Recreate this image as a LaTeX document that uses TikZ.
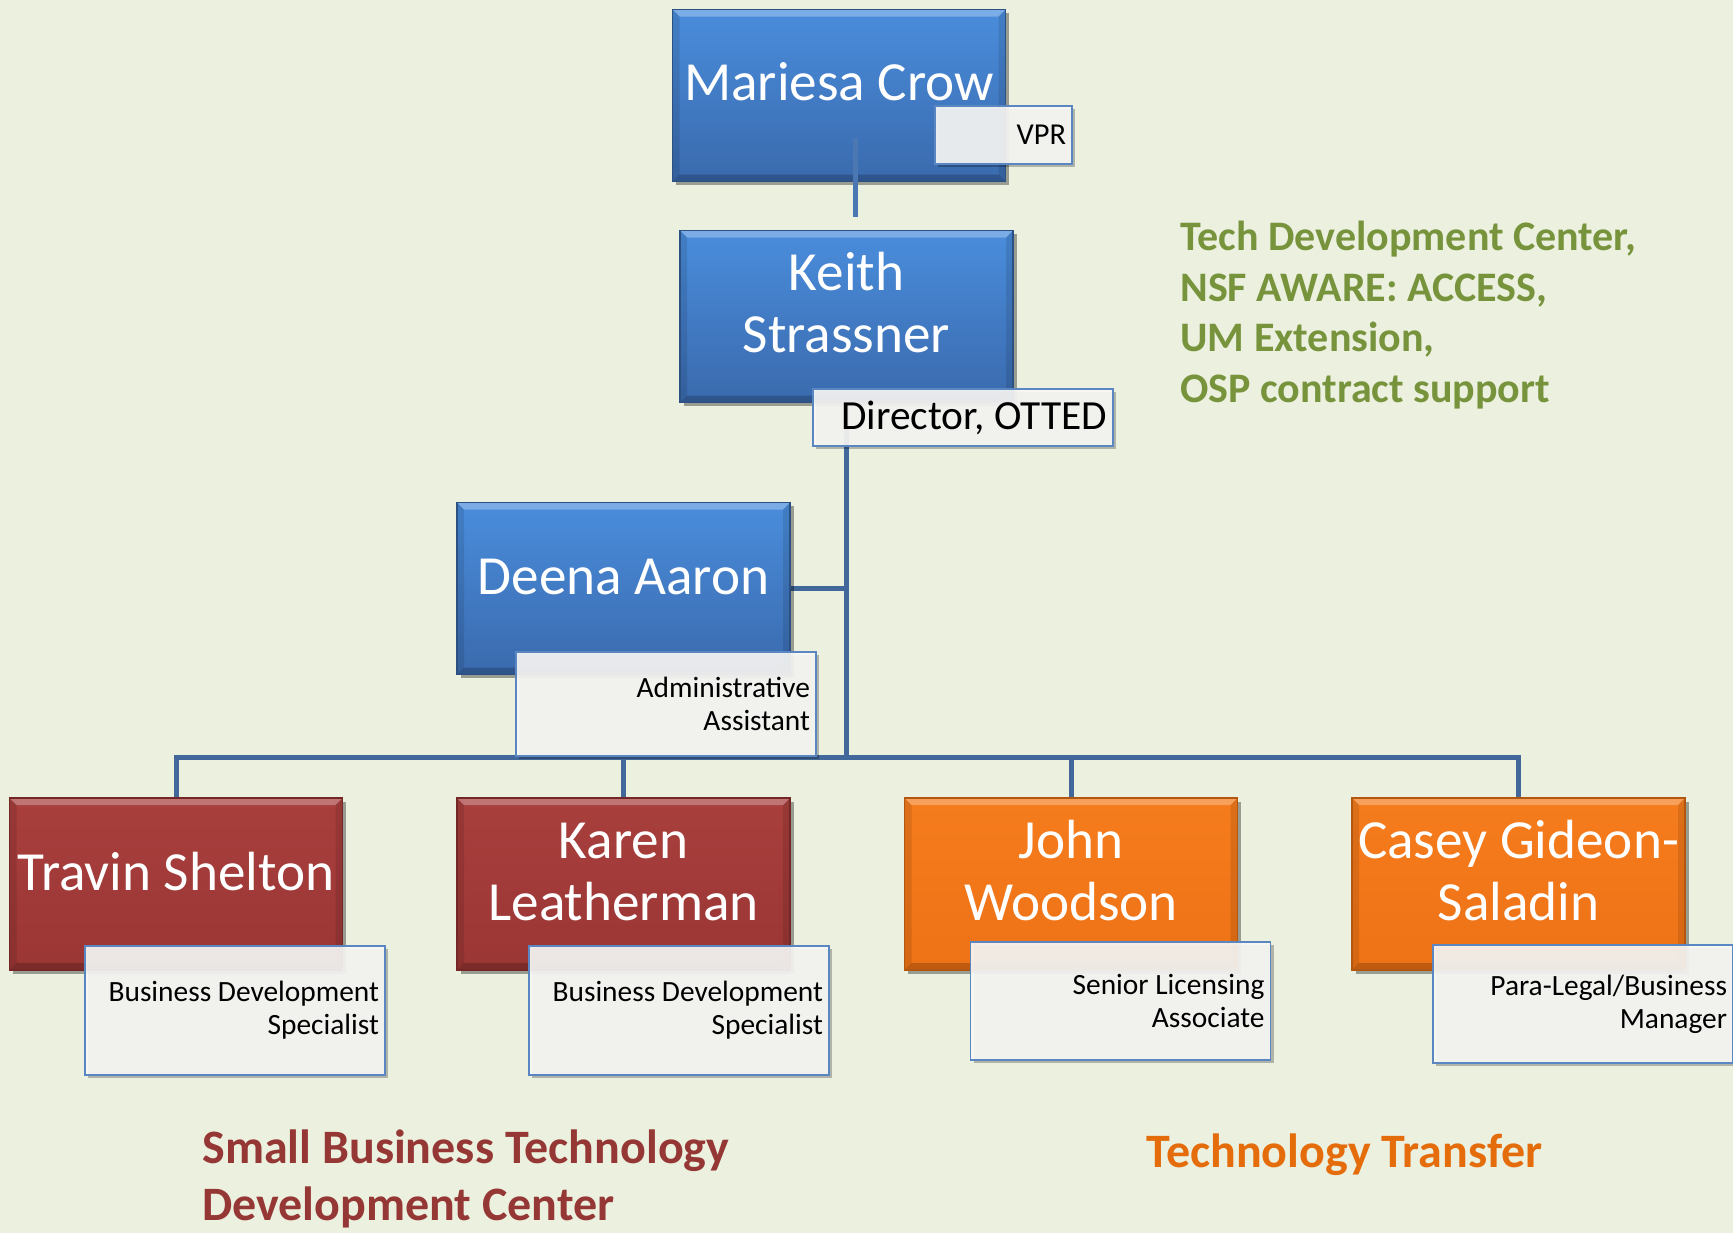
\documentclass[tikz,border=0pt]{standalone}
\usepackage{fontspec}
\setmainfont{Carlito}
\usetikzlibrary{shadows,backgrounds}
\definecolor{bgc}{HTML}{EBF0DF}
\definecolor{bluetop}{HTML}{4A8DDC}
\definecolor{bluebot}{HTML}{3A6AAD}
\definecolor{redtop}{HTML}{A83F3D}
\definecolor{redbot}{HTML}{9A3634}
\definecolor{orgtop}{HTML}{F57C1D}
\definecolor{orgbot}{HTML}{EE7216}
\definecolor{connc}{HTML}{41679B}
\definecolor{connlight}{HTML}{4B77B2}
\definecolor{subborder}{HTML}{5A86C2}
\definecolor{subfill}{HTML}{F7F7F5}
\definecolor{greentxt}{HTML}{77933C}
\definecolor{redtxt}{HTML}{953735}
\definecolor{orangetxt}{HTML}{E46C0A}
\tikzset{
  boxbase/.style={minimum width=166.5pt, minimum height=86pt, inner sep=0pt,
    line width=0.6pt,
    drop shadow={shadow xshift=1.8pt, shadow yshift=-1.8pt, opacity=0.35, fill=black},
    path picture={
      \fill[white,opacity=0.28] (path picture bounding box.north west) -- (path picture bounding box.north east)
        -- ([xshift=-3.5pt,yshift=-3.5pt]path picture bounding box.north east)
        -- ([xshift=3.5pt,yshift=-3.5pt]path picture bounding box.north west) -- cycle;
      \fill[black,opacity=0.10] (path picture bounding box.north west)
        -- ([xshift=3.5pt,yshift=-3.5pt]path picture bounding box.north west)
        -- ([xshift=3.5pt,yshift=3.5pt]path picture bounding box.south west)
        -- (path picture bounding box.south west) -- cycle;
      \fill[black,opacity=0.10] (path picture bounding box.north east)
        -- ([xshift=-3.5pt,yshift=-3.5pt]path picture bounding box.north east)
        -- ([xshift=-3.5pt,yshift=3.5pt]path picture bounding box.south east)
        -- (path picture bounding box.south east) -- cycle;
      \fill[black,opacity=0.20] (path picture bounding box.south west)
        -- ([xshift=3.5pt,yshift=3.5pt]path picture bounding box.south west)
        -- ([xshift=-3.5pt,yshift=3.5pt]path picture bounding box.south east)
        -- (path picture bounding box.south east) -- cycle;
    }},
  bluebox/.style={boxbase, top color=bluetop, bottom color=bluebot, draw=bluebot!75!black},
  redbox/.style={boxbase, top color=redtop, bottom color=redbot, draw=redbot!75!black},
  orangebox/.style={boxbase, top color=orgtop, bottom color=orgbot, draw=orgbot!75!black},
  nametext/.style={text=white, font=\fontsize{27.6}{31}\selectfont, align=center, inner sep=0pt, anchor=base},
  subbox/.style={draw=subborder, line width=0.9pt, fill=subfill, fill opacity=0.92, text opacity=1,
    text=black, inner xsep=3pt, inner ysep=0pt, align=flush right,
    drop shadow={shadow xshift=1.5pt, shadow yshift=-1.5pt, opacity=0.25, fill=black}},
  smallsub/.style={subbox, text width=144pt, font=\fontsize{14.7}{16.5}\selectfont},
  connline/.style={draw=connc, line width=2.5pt},
  grouptext/.style={anchor=base west, align=left, inner sep=0pt, font=\bfseries}
}
\begin{document}
\begin{tikzpicture}[x=0.5pt,y=-0.5pt]
\useasboundingbox (0,0) rectangle (1733,1232);
\begin{scope}[on background layer]
  \fill[bgc] (-10,-10) rectangle (1743,1242);
\end{scope}

% main boxes
\node[bluebox] (mc) at (839,95.5) {};
\node[bluebox] (ks) at (846.5,316.5) {};
\node[bluebox] (da) at (623.5,588.5) {};
\node[redbox] (ts) at (176,884) {};
\node[redbox] (kl) at (623.5,884) {};
\node[orangebox] (jw) at (1071,884) {};
\node[orangebox] (cg) at (1518.5,884) {};

% names (base anchor = baseline of the last line)
\node[nametext] (mct) at (839,100) {Mariesa Crow};
\node[nametext] (kst) at (846.5,352) {Keith\\Strassner};
\node[nametext] (dat) at (623.5,594) {Deena Aaron};
\node[nametext] (tst) at (176,890) {Travin Shelton};
\node[nametext] (klt) at (623.5,920) {Karen\\Leatherman};
\node[nametext] (jwt) at (1071,920) {John\\Woodson};
\node[nametext] (cgt) at (1518.5,920) {Casey Gideon-\\Saladin};

% Mariesa connector (visible over the box)
\coordinate (mcl) at ([xshift=8pt,yshift=22pt]mc.south);
\draw[connline, draw=connlight] (mcl) -- ++(0,79);

% connectors behind boxes
\begin{scope}[on background layer]
  \draw[connline] (ts.north) -- ++(0,-40) coordinate (busl) -| (cg.north);
  \draw[connline] (kl.north) -- (kl.north |- busl);
  \draw[connline] (jw.north) -- (jw.north |- busl);
  \draw[connline] (ks.south) -- (ks.south |- busl);
  \draw[connline] (da.east) -- (da.east -| ks.south);
\end{scope}

% title boxes
\node[subbox, text width=62.5pt, minimum height=29pt, font=\fontsize{15.2}{18}\selectfont] (vpr) at (1003.5,135) {VPR};
\node[subbox, text width=144pt, minimum height=28.5pt, font=\fontsize{20.7}{24}\selectfont] (dir) at (963,417.5) {Director, OTTED};
\node[smallsub, minimum height=52pt] (adm) at (666,704) {Administrative\\Assistant};
\node[smallsub, minimum height=64.5pt] (bd1) at (235,1010.5) {Business Development\\Specialist};
\node[smallsub, minimum height=64.5pt] (bd2) at (679,1010.5) {Business Development\\Specialist};
\node[smallsub, minimum height=59pt] (sla) at (1120.5,1001) {Senior Licensing\\Associate};
\node[smallsub, minimum height=59pt] (plb) at (1583,1004) {Para-Legal/Business\\Manager};

% group labels
\node[grouptext, text=greentxt, font=\fontsize{21}{25.25}\selectfont\bfseries] (tdc) at (1180,402)
  {Tech Development Center,\\NSF AWARE: ACCESS,\\UM Extension,\\OSP contract support};
\node[grouptext, text=redtxt, font=\fontsize{24}{28.5}\selectfont\bfseries] (sbt) at (202,1220)
  {Small Business Technology\\Development Center};
\node[grouptext, text=orangetxt, font=\fontsize{24}{28.5}\selectfont\bfseries] (ttr) at (1146,1167)
  {Technology Transfer};
\end{tikzpicture}
\end{document}
